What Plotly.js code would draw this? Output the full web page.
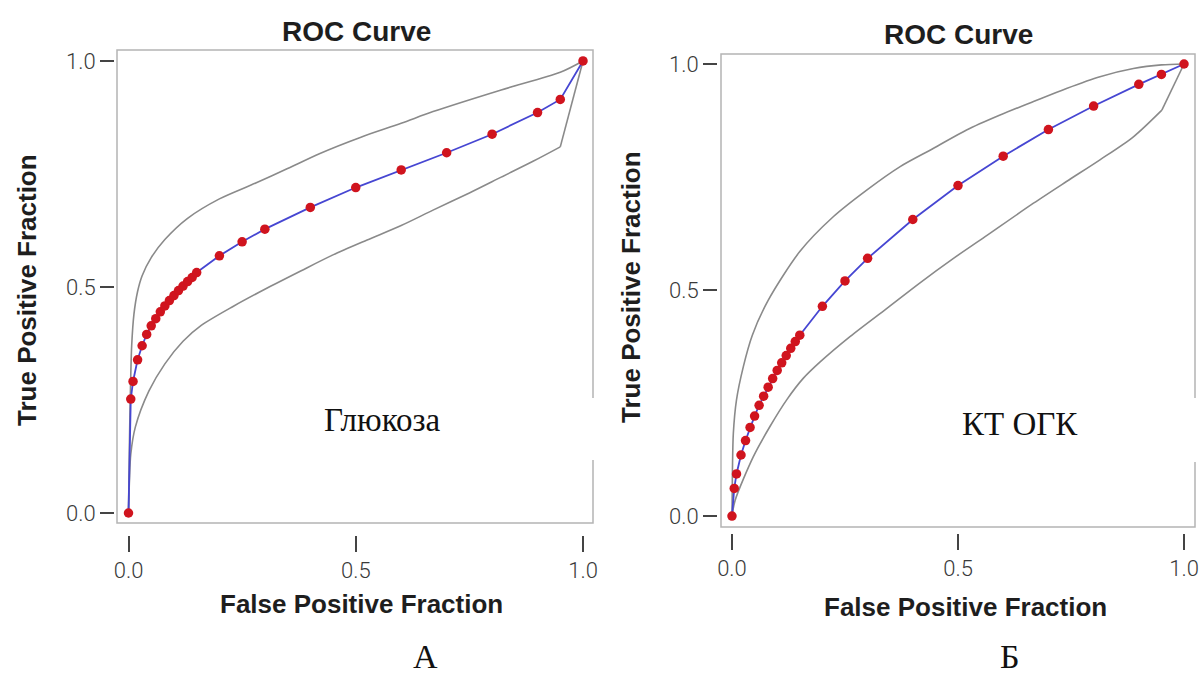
<!DOCTYPE html>
<html>
<head>
<meta charset="utf-8">
<script src="https://cdn.plot.ly/plotly-3.0.1.min.js"></script>
<style>html,body{margin:0;padding:0;background:#fff;}#chart{width:1199px;height:678px;}</style>
</head>
<body>
<div id="chart"></div>
<script>
// ---- Data ----
const fpf = [0, 0.005, 0.01, 0.02, 0.03, 0.04, 0.05, 0.06, 0.07, 0.08, 0.09, 0.10, 0.11, 0.12, 0.13, 0.14, 0.15, 0.20, 0.25, 0.30, 0.40, 0.50, 0.60, 0.70, 0.80, 0.90, 0.95, 1.0];
const tpfGlucose = [0, 0.252, 0.291, 0.339, 0.370, 0.395, 0.414, 0.430, 0.445, 0.458, 0.470, 0.481, 0.492, 0.502, 0.512, 0.521, 0.532, 0.569, 0.600, 0.628, 0.676, 0.720, 0.759, 0.797, 0.838, 0.886, 0.915, 1.0];
const tpfKT = [0, 0.061, 0.093, 0.135, 0.167, 0.196, 0.221, 0.245, 0.265, 0.285, 0.304, 0.322, 0.339, 0.355, 0.371, 0.386, 0.400, 0.464, 0.520, 0.570, 0.656, 0.731, 0.796, 0.855, 0.907, 0.955, 0.977, 1.0];

const gluUpperX = [0, 0.002, 0.004, 0.007, 0.012, 0.02, 0.03, 0.05, 0.08, 0.13, 0.20, 0.28, 0.35, 0.42, 0.51, 0.60, 0.67, 0.82, 0.95, 1.0];
const gluUpperY = [0, 0.15, 0.26, 0.37, 0.44, 0.49, 0.525, 0.565, 0.605, 0.652, 0.695, 0.730, 0.762, 0.795, 0.831, 0.862, 0.888, 0.936, 0.975, 1.0];
const gluLowerX = [0, 0.002, 0.005, 0.015, 0.045, 0.08, 0.12, 0.16, 0.23, 0.30, 0.38, 0.45, 0.525, 0.60, 0.67, 0.75, 0.82, 0.89, 0.95];
const gluLowerY = [0, 0.07, 0.13, 0.19, 0.27, 0.33, 0.38, 0.415, 0.457, 0.495, 0.536, 0.571, 0.604, 0.636, 0.670, 0.708, 0.743, 0.778, 0.810];
const gluLowerEndX = [0.95, 1.0];
const gluLowerEndY = [0.810, 1.0];

const ktUpperX = [0, 0.001, 0.003, 0.01, 0.025, 0.045, 0.08, 0.15, 0.224, 0.298, 0.372, 0.445, 0.519, 0.593, 0.667, 0.74, 0.814, 0.888, 0.95, 1.0];
const ktUpperY = [0, 0.10, 0.183, 0.257, 0.33, 0.40, 0.477, 0.585, 0.662, 0.721, 0.773, 0.813, 0.854, 0.887, 0.917, 0.946, 0.972, 0.990, 0.998, 1.0];
const ktLowerX = [0, 0.007, 0.047, 0.084, 0.121, 0.158, 0.195, 0.261, 0.342, 0.416, 0.49, 0.56, 0.667, 0.74, 0.814, 0.888, 0.951];
const ktLowerY = [0, 0.035, 0.131, 0.198, 0.257, 0.305, 0.341, 0.397, 0.459, 0.516, 0.570, 0.618, 0.692, 0.740, 0.788, 0.839, 0.898];
const ktLowerEndX = [0.951, 1.0];
const ktLowerEndY = [0.898, 1.0];

const tickVals = [0, 0.5, 1.0];
const tickText = ['0.0', '0.5', '1.0'];
const plotTitle = 'ROC Curve';
const xTitle = 'False Positive Fraction';
const yTitle = 'True Positive Fraction';
const panelLabels = ['Глюкоза', 'КТ ОГК'];
const panelLetters = ['А', 'Б'];

// ---- Styling / layout helpers ----
const W = 1199, H = 678;
const px = v => v / W;
const py = v => 1 - v / H;
const bandLine = {color: '#8a8a8a', width: 1.6, shape: 'spline', smoothing: 0.8};
const bandLineStraight = {color: '#8a8a8a', width: 1.6};
const blueLine = {color: '#4646d2', width: 1.8};
const redMarker = {color: '#d0141e', size: 9.5};

function panel(xa, ya, upX, upY, loX, loY, endX, endY, tpf) {
  return [
    {x: upX, y: upY, xaxis: xa, yaxis: ya, mode: 'lines', line: bandLine, hoverinfo: 'skip'},
    {x: loX, y: loY, xaxis: xa, yaxis: ya, mode: 'lines', line: bandLine, hoverinfo: 'skip'},
    {x: endX, y: endY, xaxis: xa, yaxis: ya, mode: 'lines', line: bandLineStraight, hoverinfo: 'skip'},
    {x: fpf, y: tpf, xaxis: xa, yaxis: ya, mode: 'lines', line: blueLine},
    {x: fpf, y: tpf, xaxis: xa, yaxis: ya, mode: 'markers', marker: redMarker}
  ];
}

const data = [
  ...panel('x', 'y', gluUpperX, gluUpperY, gluLowerX, gluLowerY, gluLowerEndX, gluLowerEndY, tpfGlucose),
  ...panel('x2', 'y2', ktUpperX, ktUpperY, ktLowerX, ktLowerY, ktLowerEndX, ktLowerEndY, tpfKT)
];

const tickFont = {family: 'Roboto, DejaVu Sans, sans-serif', size: 22, color: '#3a3a3a', weight: 300};
function xAxis(dom, rng, pos) {
  return {domain: dom, range: rng, anchor: 'free', position: pos, showgrid: false, zeroline: false,
    showline: false, ticks: 'outside', ticklen: 16, tickwidth: 2, tickcolor: '#444',
    tickvals: tickVals, ticktext: tickText, tickfont: tickFont, fixedrange: true};
}
function yAxis(dom, rng, pos) {
  return {domain: dom, range: rng, anchor: 'free', position: pos, showgrid: false, zeroline: false,
    showline: false, ticks: 'outside', ticklen: 14, tickwidth: 2, tickcolor: '#444',
    tickvals: tickVals, ticktext: tickText, tickfont: tickFont, fixedrange: true};
}

const boldFont = s => ({family: 'Liberation Sans, Arial, sans-serif', size: s, color: '#1e1e1e', weight: 'bold'});
const serifFont = s => ({family: 'Liberation Serif, Times New Roman, serif', size: s, color: '#111'});

function ann(text, x, y, font, angle) {
  return {text: text, xref: 'paper', yref: 'paper', x: px(x), y: py(y), xanchor: 'center', yanchor: 'middle',
    showarrow: false, font: font, textangle: angle || 0};
}

const layout = {
  width: W, height: H,
  margin: {l: 0, r: 0, t: 0, b: 0},
  paper_bgcolor: '#fff', plot_bgcolor: 'rgba(0,0,0,0)',
  showlegend: false,
  xaxis: xAxis([px(117), px(593)], [-0.0253, 1.022], py(535)),
  yaxis: yAxis([py(523), py(50)], [-0.0221, 1.0243], px(114)),
  xaxis2: xAxis([px(721), px(1195)], [-0.0243, 1.0243], py(533)),
  yaxis2: yAxis([py(527), py(54)], [-0.0243, 1.0221], px(717)),
  shapes: [
    {type: 'rect', xref: 'paper', yref: 'paper', x0: px(117), x1: px(593), y0: py(523), y1: py(50), line: {color: '#b4b4b4', width: 1.5}},
    {type: 'rect', xref: 'paper', yref: 'paper', x0: px(721), x1: px(1195), y0: py(527), y1: py(54), line: {color: '#b4b4b4', width: 1.5}},
    {type: 'line', xref: 'paper', yref: 'paper', x0: px(593), x1: px(593), y0: py(398), y1: py(460), line: {color: '#fff', width: 3}},
    {type: 'line', xref: 'paper', yref: 'paper', x0: px(1195), x1: px(1195), y0: py(398), y1: py(462), line: {color: '#fff', width: 3}}
  ],
  annotations: [
    ann(plotTitle, 356, 31, boldFont(28)),
    ann(plotTitle, 958, 34, boldFont(28)),
    ann(xTitle, 361, 604, boldFont(26)),
    ann(xTitle, 965, 607, boldFont(26)),
    ann(yTitle, 27, 290, boldFont(26), -90),
    ann(yTitle, 631, 287, boldFont(26), -90),
    ann(panelLabels[0], 382, 420, serifFont(33)),
    ann(panelLabels[1], 1020, 424, serifFont(33)),
    ann(panelLetters[0], 425, 656, serifFont(34)),
    ann(panelLetters[1], 1010, 656, serifFont(34))
  ]
};

Plotly.newPlot('chart', data, layout, {displayModeBar: false, staticPlot: true});
</script>
</body>
</html>
